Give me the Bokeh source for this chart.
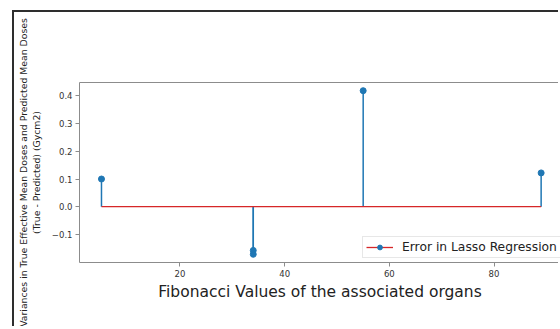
from bokeh.plotting import figure
from bokeh.models import (Range1d, FixedTicker, CustomJSTickFormatter, Legend,
                          LegendItem, LinearAxis)
from bokeh.embed import file_html
from bokeh.resources import INLINE

# ---- data ----
fib_values = [5, 34, 34, 55, 89]
errors = [0.100, -0.158, -0.172, 0.419, 0.122]
x_ticks = [20, 40, 60, 80]
y_ticks = [-0.1, 0.0, 0.1, 0.2, 0.3, 0.4]
legend_label = "Error in Lasso Regression"
x_label = "Fibonacci Values of the associated organs"
y_label = "Variances in True Effective Mean Doses and Predicted Mean Doses\n(True - Predicted) (Gycm2)"

BLUE = "#1f77b4"
RED = "#d62728"
SPINE = "#8c8c8c"
FONT = "DejaVu Sans"

p = figure(width=546, height=316, output_backend="svg", toolbar_location=None,
           x_range=Range1d(0.8, 92.7), y_range=Range1d(-0.2016, 0.4486),
           min_border_left=63, min_border_top=70, min_border_bottom=66,
           min_border_right=0, outline_line_color=None)
p.margin = (10, 0, 0, 12)
p.styles = {"border-top": "2px solid #2e2e2e", "border-left": "2px solid #2e2e2e"}
p.grid.visible = False

# stems
stems = p.segment(x0=fib_values, y0=[0] * len(fib_values), x1=fib_values, y1=errors,
                  line_color=BLUE, line_width=1.5)
# baseline
base = p.segment(x0=[min(fib_values)], y0=[0], x1=[max(fib_values)], y1=[0],
                 line_color=RED, line_width=1.3)
# markers
marks = p.scatter(fib_values, errors, size=6, color=BLUE)

# axes
for ax in (p.xaxis[0], p.yaxis[0]):
    ax.axis_line_color = SPINE
    ax.axis_line_width = 1
    ax.major_tick_line_color = SPINE
    ax.major_tick_out = 4
    ax.major_tick_in = 0
    ax.minor_tick_line_color = None
    ax.major_label_text_font = FONT
    ax.major_label_text_font_size = "8.5px"
    ax.major_label_text_color = "#333333"
    ax.major_label_standoff = 3

p.xaxis.ticker = FixedTicker(ticks=x_ticks)
p.yaxis.ticker = FixedTicker(ticks=y_ticks)
p.yaxis.formatter = CustomJSTickFormatter(
    code="return tick.toFixed(1).replace('-', '\\u2212');")

p.xaxis.axis_label = x_label
p.xaxis.axis_label_text_font = FONT
p.xaxis.axis_label_text_font_size = "15.5px"
p.xaxis.axis_label_text_font_style = "normal"
p.xaxis.axis_label_text_color = "#222222"
p.xaxis.axis_label_standoff = 3

p.yaxis.axis_label = y_label
p.yaxis.axis_label_text_font = FONT
p.yaxis.axis_label_text_font_size = "9.3px"
p.yaxis.axis_label_text_font_style = "normal"
p.yaxis.axis_label_text_color = "#222222"
p.yaxis.axis_label_standoff = 7

# top spine
top = LinearAxis(ticker=FixedTicker(ticks=[]), axis_line_color=SPINE,
                 major_tick_line_color=None, minor_tick_line_color=None,
                 major_label_text_font_size="0px")
p.add_layout(top, "above")

legend = Legend(items=[LegendItem(label=legend_label, renderers=[base, marks])],
                location=(283, 4))
legend.label_text_font = FONT
legend.label_text_font_size = "12.3px"
legend.label_text_color = "#222222"
legend.glyph_width = 27
legend.glyph_height = 12
legend.padding = 3
legend.margin = 0
legend.label_standoff = 9
legend.border_line_color = "#d0d0d0"
legend.background_fill_alpha = 0.85
p.add_layout(legend)

open("out.html", "w").write(file_html(p, INLINE))
